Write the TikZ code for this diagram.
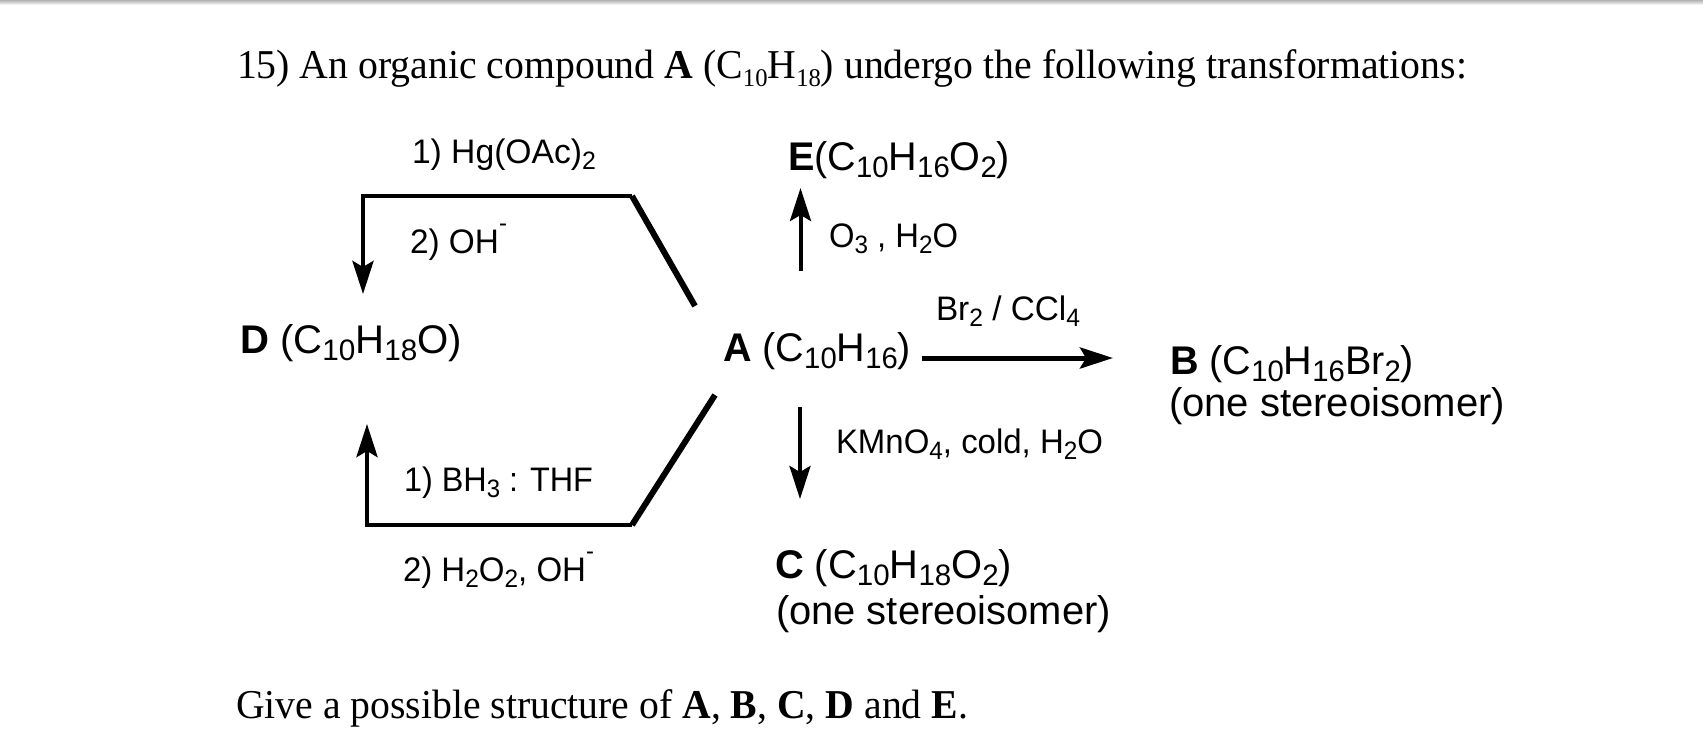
\documentclass[tikz,border=0pt]{standalone}
\usepackage{fontspec}
\usepackage{graphicx}
\setmainfont{Liberation Serif}
\setsansfont{Liberation Sans}
\usetikzlibrary{arrows.meta}
\newcommand\fitw[2]{\resizebox{#1pt}{\height}{#2}}
\newcommand\sbs[1]{\raisebox{-.19em}{\scalebox{.74}{#1}}}
\newcommand\sps[1]{\raisebox{.62em}{\scalebox{.72}{#1}}}
\newcommand\ssb[1]{\raisebox{-.2em}{\scalebox{.62}{#1}}}
\tikzset{
  txt/.style={inner sep=0pt,outer sep=0pt,anchor=base west,text=black},
  serifline/.style={txt,font=\fontsize{41}{41}\selectfont\rmfamily},
  species/.style={txt,font=\fontsize{40}{40}\selectfont\sffamily},
  reagent/.style={txt,font=\fontsize{34}{34}\selectfont\sffamily},
  slantpath/.style={line width=6pt,line cap=butt,black},
  thinarrow/.style={line width=4pt,line join=miter,black,-{Stealth[length=33pt,width=21pt,inset=6pt]}}
}
\begin{document}
\begin{tikzpicture}[x=1pt,y=-1pt]
\useasboundingbox (0,0) rectangle (1703,740);
\fill[white] (0,0) rectangle (1703,740);
\shade[top color=black!30,bottom color=white] (0,0) rectangle (1703,5);

\node[serifline] (head) at (237,78) {\fitw{1230}{15) An organic compound \textbf{A} (C\ssb{10}H\ssb{18}) undergo the following transformations:}};
\node[serifline] (foot) at (236,718) {\fitw{732}{Give a possible structure of \textbf{A}, \textbf{B}, \textbf{C}, \textbf{D} and \textbf{E}.}};

\node[species] (D) at (240,353) {\fitw{222}{\textbf{D} (C\sbs{10}H\sbs{18}O)}};
\node[species] (A) at (723,361) {\fitw{188}{\textbf{A} (C\sbs{10}H\sbs{16})}};
\node[species] (E) at (788,170) {\fitw{222}{\textbf{E}(C\sbs{10}H\sbs{16}O\sbs{2})}};
\node[species] (B) at (1170,374) {\fitw{244}{\textbf{B} (C\sbs{10}H\sbs{16}Br\sbs{2})}};
\node[species] (Bn) at (1169,416) {\fitw{336}{(one stereoisomer)}};
\node[species] (C) at (775,578) {\fitw{237}{\textbf{C} (C\sbs{10}H\sbs{18}O\sbs{2})}};
\node[species] (Cn) at (776,624) {\fitw{335}{(one stereoisomer)}};

\node[reagent] (r1) at (412,163) {\fitw{184}{1) Hg(OAc)\sbs{2}}};
\node[reagent] (r2) at (410,253) {\fitw{97}{2) OH\sps{-}}};
\node[reagent] (r3) at (829,247) {\fitw{129}{O\sbs{3} , H\sbs{2}O}};
\node[reagent] (r4) at (936,320) {\fitw{144}{Br\sbs{2} / CCl\sbs{4}}};
\node[reagent] (r5) at (836,453) {\fitw{267}{KMnO\sbs{4}, cold, H\sbs{2}O}};
\node[reagent] (r6) at (404,491) {\fitw{189}{1) BH\sbs{3} : THF}};
\node[reagent] (r7) at (403,581) {\fitw{191}{2) H\sbs{2}O\sbs{2}, OH\sps{-}}};

\coordinate (topstart) at (695,306);
\coordinate (topknee) at (632,196);
\coordinate (topcorner) at (363,196);
\coordinate (Dtop) at (363,294);
\coordinate (botstart) at (715,395);
\coordinate (botknee) at (632,525);
\coordinate (botcorner) at (367,525);
\coordinate (Dbot) at (367,424);
\coordinate (Eup) at (800.5,271);
\coordinate (Etip) at (800.5,188);
\coordinate (Cup) at (800,407);
\coordinate (Ctip) at (800,499);
\coordinate (Ar) at (922,358);
\coordinate (Br) at (1113,358);

\draw[slantpath] (topstart) -- (topknee);
\draw[thinarrow,line width=4.6pt] (topknee) -- (topcorner) -- (Dtop);
\draw[slantpath] (botstart) -- (botknee);
\draw[thinarrow,line width=4.6pt] (botknee) -- (botcorner) -- (Dbot);
\draw[thinarrow] (Eup) -- (Etip);
\draw[thinarrow] (Cup) -- (Ctip);
\draw[thinarrow,line width=5pt] (Ar) -- (Br);
\end{tikzpicture}
\end{document}
